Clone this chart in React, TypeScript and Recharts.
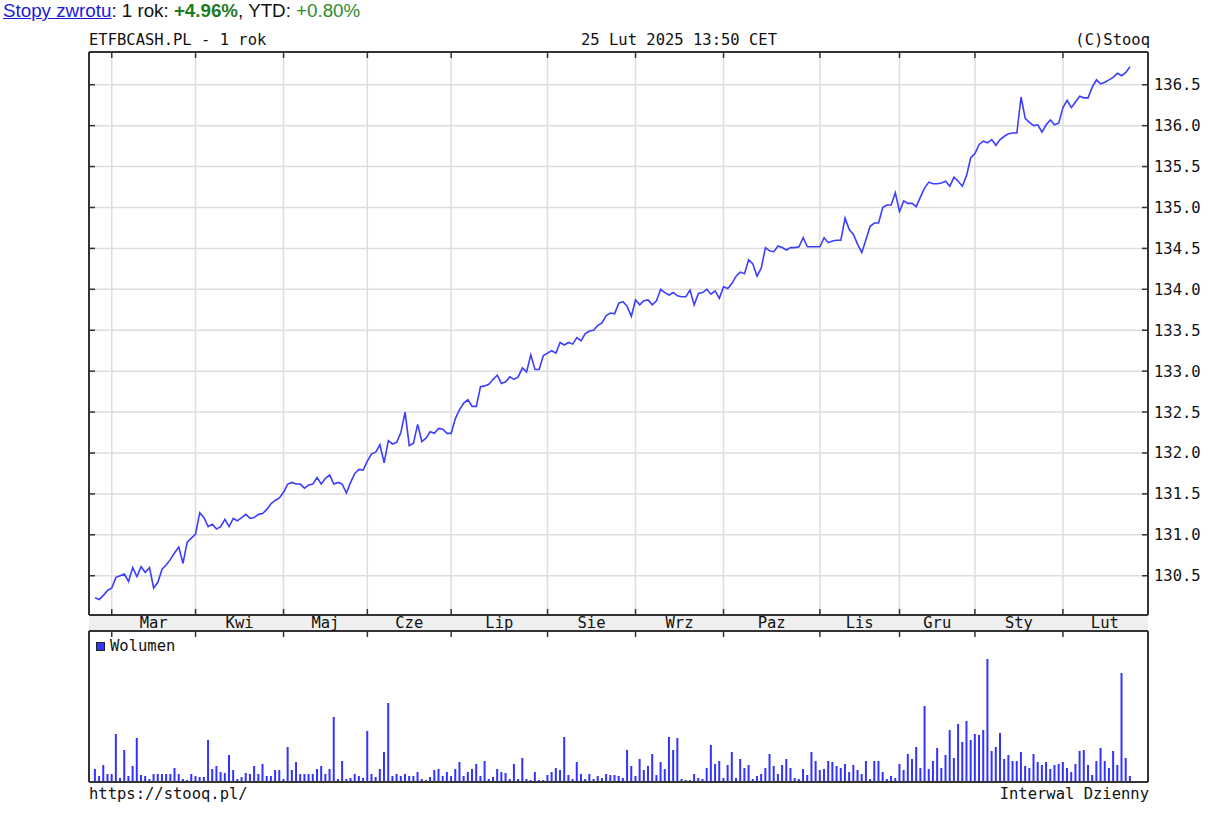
import React from 'react';
import { LineChart, Line, BarChart, Bar, XAxis, YAxis, CartesianGrid, Legend } from 'recharts';

// ---------- data ----------
const PRICES: number[] = [
  130.23, 130.21, 130.26, 130.32, 130.35, 130.48, 130.50, 130.52, 130.43, 130.60,
  130.49, 130.61, 130.54, 130.60, 130.35, 130.42, 130.58, 130.63, 130.70, 130.78,
  130.85, 130.65, 130.91, 130.96, 131.01, 131.27, 131.21, 131.10, 131.13, 131.07,
  131.10, 131.19, 131.10, 131.20, 131.17, 131.21, 131.25, 131.20, 131.21, 131.25,
  131.26, 131.31, 131.38, 131.42, 131.45, 131.52, 131.62, 131.64, 131.62, 131.62,
  131.57, 131.61, 131.62, 131.70, 131.62, 131.69, 131.73, 131.62, 131.64, 131.62,
  131.51, 131.64, 131.75, 131.80, 131.79, 131.90, 131.99, 132.01, 132.10, 131.88,
  132.15, 132.11, 132.13, 132.25, 132.50, 132.09, 132.12, 132.35, 132.14, 132.18,
  132.26, 132.24, 132.30, 132.29, 132.24, 132.24, 132.42, 132.53, 132.61, 132.65,
  132.57, 132.57, 132.81, 132.82, 132.84, 132.90, 132.95, 132.85, 132.87, 132.93,
  132.90, 132.93, 133.04, 132.99, 133.20, 133.02, 133.02, 133.19, 133.22, 133.25,
  133.22, 133.35, 133.32, 133.35, 133.33, 133.41, 133.37, 133.46, 133.49, 133.50,
  133.56, 133.59, 133.68, 133.71, 133.70, 133.83, 133.85, 133.79, 133.67, 133.87,
  133.81, 133.86, 133.87, 133.81, 133.86, 134.00, 133.96, 133.93, 133.96, 133.92,
  133.91, 133.91, 133.99, 133.81, 133.95, 133.96, 134.00, 133.94, 133.98, 133.89,
  134.03, 134.01, 134.07, 134.16, 134.21, 134.19, 134.36, 134.31, 134.16, 134.26,
  134.51, 134.47, 134.46, 134.53, 134.51, 134.48, 134.51, 134.51, 134.52, 134.63,
  134.52, 134.52, 134.52, 134.52, 134.63, 134.57, 134.59, 134.60, 134.60, 134.87,
  134.73, 134.67, 134.55, 134.45, 134.61, 134.77, 134.81, 134.81, 135.00, 135.03,
  135.03, 135.18, 134.95, 135.08, 135.05, 135.05, 135.01, 135.13, 135.24, 135.31,
  135.29, 135.29, 135.30, 135.32, 135.26, 135.37, 135.32, 135.26, 135.39, 135.61,
  135.66, 135.77, 135.81, 135.79, 135.83, 135.76, 135.83, 135.87, 135.90, 135.91,
  135.91, 136.35, 136.09, 136.04, 136.00, 136.01, 135.92, 136.01, 136.07, 136.01,
  136.03, 136.22, 136.31, 136.22, 136.29, 136.36, 136.34, 136.34, 136.47, 136.56,
  136.51, 136.53, 136.56, 136.59, 136.64, 136.61, 136.65, 136.72,
];

const VOLUMES: number[] = [
  13, 6, 17, 8, 8, 48, 4, 32, 6, 16,
  44, 7, 6, 3, 8, 8, 8, 8, 8, 14,
  8, 3, 2, 8, 6, 5, 5, 42, 13, 16,
  10, 9, 27, 12, 3, 5, 9, 8, 16, 8,
  18, 6, 6, 12, 12, 3, 35, 12, 20, 8,
  8, 8, 8, 13, 16, 8, 13, 65, 3, 21,
  3, 4, 8, 6, 4, 51, 8, 5, 13, 30,
  79, 6, 8, 6, 8, 6, 6, 10, 3, 2,
  5, 12, 13, 6, 10, 6, 13, 20, 6, 10,
  13, 18, 6, 21, 3, 5, 13, 10, 9, 3,
  18, 3, 24, 3, 2, 10, 2, 2, 7, 10,
  14, 12, 45, 7, 3, 20, 8, 3, 8, 3,
  6, 4, 8, 7, 7, 6, 4, 32, 16, 6,
  23, 12, 16, 28, 7, 20, 13, 45, 32, 44,
  3, 2, 2, 8, 4, 3, 14, 37, 18, 21,
  4, 17, 30, 4, 23, 14, 17, 3, 6, 8,
  14, 28, 16, 8, 17, 23, 14, 4, 3, 13,
  7, 30, 21, 12, 13, 21, 20, 16, 14, 18,
  10, 17, 12, 8, 21, 3, 21, 21, 10, 3,
  6, 4, 18, 12, 28, 23, 35, 14, 76, 13,
  21, 34, 14, 27, 52, 24, 58, 40, 61, 42,
  48, 47, 52, 123, 31, 35, 49, 23, 27, 21,
  21, 30, 16, 14, 28, 20, 17, 20, 13, 17,
  18, 20, 14, 10, 18, 31, 32, 17, 7, 21,
  34, 21, 14, 31, 17, 109, 24, 6,
];

const MONTH_LABELS: string[] = ['Mar', 'Kwi', 'Maj', 'Cze', 'Lip', 'Sie', 'Wrz', 'Paz', 'Lis', 'Gru', 'Sty', 'Lut'];
const MONTH_START_IDX: number[] = [4, 24, 45, 65, 85, 108, 129, 150, 173, 192, 210, 231];
const MONTH_END_IDX = 251;
const PRICE_TICKS: number[] = [130.5, 131.0, 131.5, 132.0, 132.5, 133.0, 133.5, 134.0, 134.5, 135.0, 135.5, 136.0, 136.5];

const TITLE = 'ETFBCASH.PL - 1 rok';
const DATE_TEXT = '25 Lut 2025 13:50 CET';
const COPYRIGHT = '(C)Stooq';
const URL_TEXT = 'https://stooq.pl/';
const INTERVAL_TEXT = 'Interwal Dzienny';
const VOLUME_NAME = 'Wolumen';
const RETURN_1Y = '+4.96%';
const RETURN_YTD = '+0.80%';

// ---------- derived tables ----------
const priceData = PRICES.map((price, i) => ({ i, price }));
const volumeData = VOLUMES.map((vol, i) => ({ i, vol }));
const MONTH_MIDS = MONTH_START_IDX.map((s, k) => (s + (k + 1 < MONTH_START_IDX.length ? MONTH_START_IDX[k + 1] : MONTH_END_IDX)) / 2);
const BAND_TICKS = [...MONTH_START_IDX, ...MONTH_MIDS].sort((a, b) => a - b);

// ---------- styling ----------
const X_DOMAIN: [number, number] = [-1.43, 251.3];
const PRICE_DOMAIN: [number, number] = [130.02, 136.9];
const VOL_DOMAIN: [number, number] = [0, 151];
const FRAME = '#333333';
const GRID = '#dddddd';
const MONO = '"DejaVu Sans Mono", monospace';
const MONO_SIZE = 15.5;
const TEXT = '#111111';

const TopTick = (p: any) => <line x1={p.x} y1={p.y} x2={p.x} y2={p.y + 6} stroke={FRAME} strokeWidth={1.5} />;
const BottomTick = (p: any) => <line x1={p.x} y1={p.y} x2={p.x} y2={p.y - 6} stroke={FRAME} strokeWidth={1.5} />;
const LeftTick = (p: any) => <line x1={p.x} y1={p.y} x2={p.x + 6} y2={p.y} stroke={FRAME} strokeWidth={1.5} />;
const RightTick = (p: any) => (
  <g>
    <line x1={p.x - 6} y1={p.y} x2={p.x} y2={p.y} stroke={FRAME} strokeWidth={1.5} />
    <text x={p.x + 6} y={p.y} dy={5.5} fontFamily={MONO} fontSize={MONO_SIZE} fill={TEXT}>
      {Number(p.payload.value).toFixed(1)}
    </text>
  </g>
);
const BandTick = (p: any) => {
  const v = p.payload.value;
  if (MONTH_START_IDX.indexOf(v) >= 0) {
    return <line x1={p.x} y1={p.y} x2={p.x} y2={p.y + 6} stroke={FRAME} strokeWidth={1.5} />;
  }
  const m = MONTH_MIDS.indexOf(v);
  return (
    <text x={p.x} y={p.y - 3} textAnchor="middle" fontFamily={MONO} fontSize={MONO_SIZE} fill={TEXT}>
      {m >= 0 ? MONTH_LABELS[m] : ''}
    </text>
  );
};

const renderLegend = (props: any) => {
  const item = props.payload && props.payload[0];
  return (
    <div style={{ display: 'flex', alignItems: 'center', fontFamily: MONO, fontSize: MONO_SIZE, lineHeight: '16px', color: TEXT, whiteSpace: 'nowrap' }}>
      <span style={{ display: 'inline-block', width: 7, height: 7, background: item ? item.color : '#0000ff', border: '1px solid #222', marginRight: 5 }} />
      <span>{item ? item.value : VOLUME_NAME}</span>
    </div>
  );
};

const monoText = (extra: React.CSSProperties): React.CSSProperties => ({
  position: 'absolute',
  fontFamily: MONO,
  fontSize: MONO_SIZE,
  lineHeight: '16px',
  color: TEXT,
  whiteSpace: 'nowrap',
  ...extra,
});

export default function App() {
  return (
    <div style={{ position: 'absolute', left: 0, top: 0, width: 1211, height: 814, background: '#ffffff', overflow: 'hidden' }}>
      <div style={{ position: 'absolute', left: 3, top: 0, fontFamily: '"Liberation Sans", Arial, sans-serif', fontSize: 18.75, lineHeight: '21px', whiteSpace: 'nowrap', color: '#111' }}>
        <span style={{ color: '#1a1add', textDecoration: 'underline' }}>Stopy zwrotu</span>
        <span>: 1 rok: </span>
        <span style={{ color: '#1e7b1e', fontWeight: 'bold' }}>{RETURN_1Y}</span>
        <span>, YTD: </span>
        <span style={{ color: '#2e8b2e' }}>{RETURN_YTD}</span>
      </div>

      <div style={monoText({ left: 89, top: 32 })}>{TITLE}</div>
      <div style={monoText({ left: 581, top: 32 })}>{DATE_TEXT}</div>
      <div style={monoText({ right: 61, top: 32 })}>{COPYRIGHT}</div>

      <div style={{ position: 'absolute', left: 89, top: 615, width: 1059, height: 16, background: '#efefef' }} />

      <div style={{ position: 'absolute', left: 0, top: 0 }}>
        <LineChart width={1211} height={640} data={priceData} margin={{ top: 42, right: 0, bottom: 15, left: 0 }}>
          <CartesianGrid stroke={GRID} strokeWidth={1.5} />
          <XAxis xAxisId={0} type="number" dataKey="i" domain={X_DOMAIN} allowDataOverflow ticks={MONTH_START_IDX} interval={0}
            orientation="bottom" height={10} tickSize={0} tickMargin={0} tickLine={false} tick={BottomTick}
            axisLine={{ stroke: FRAME, strokeWidth: 2 }} />
          <XAxis xAxisId="T" type="number" dataKey="i" domain={X_DOMAIN} allowDataOverflow ticks={MONTH_START_IDX} interval={0}
            orientation="top" height={10} tickSize={0} tickMargin={0} tickLine={false} tick={TopTick}
            axisLine={{ stroke: FRAME, strokeWidth: 2 }} />
          <YAxis yAxisId={0} orientation="right" width={63} domain={PRICE_DOMAIN} allowDataOverflow ticks={PRICE_TICKS} interval={0}
            tickSize={0} tickMargin={0} tickLine={false} tick={RightTick} axisLine={{ stroke: FRAME, strokeWidth: 2 }} />
          <YAxis yAxisId="L" orientation="left" width={89} domain={PRICE_DOMAIN} allowDataOverflow ticks={PRICE_TICKS} interval={0}
            tickSize={0} tickMargin={0} tickLine={false} tick={LeftTick} axisLine={{ stroke: FRAME, strokeWidth: 2 }} />
          <Line xAxisId={0} yAxisId={0} type="linear" dataKey="price" stroke="#3d3dff" strokeWidth={1.6} dot={false} activeDot={false} isAnimationActive={false} />
        </LineChart>
      </div>

      <div style={{ position: 'absolute', left: 0, top: 600 }}>
        <BarChart width={1211} height={200} data={volumeData} margin={{ top: 15, right: 0, bottom: 17, left: 0 }}>
          <CartesianGrid horizontal={false} stroke={GRID} strokeWidth={1.5} />
          <XAxis xAxisId={0} type="number" dataKey="i" domain={X_DOMAIN} allowDataOverflow ticks={MONTH_START_IDX} interval={0}
            orientation="bottom" height={1} tickSize={0} tickMargin={0} tickLine={false} tick={false}
            axisLine={{ stroke: FRAME, strokeWidth: 2 }} />
          <XAxis xAxisId="band" type="number" dataKey="i" domain={X_DOMAIN} allowDataOverflow ticks={BAND_TICKS} interval={0}
            orientation="top" height={16} tickSize={0} tickMargin={0} tickLine={false} tick={BandTick}
            axisLine={{ stroke: FRAME, strokeWidth: 2 }} />
          <YAxis yAxisId={0} orientation="right" width={63} domain={VOL_DOMAIN} allowDataOverflow tick={false} tickLine={false}
            axisLine={{ stroke: FRAME, strokeWidth: 2 }} />
          <YAxis yAxisId="L" orientation="left" width={89} domain={VOL_DOMAIN} allowDataOverflow tick={false} tickLine={false}
            axisLine={{ stroke: FRAME, strokeWidth: 2 }} />
          <Legend verticalAlign="middle" align="center" layout="horizontal" content={renderLegend}
            wrapperStyle={{ left: 96, top: 38, width: 'auto', height: 'auto' }} />
          <Bar xAxisId={0} yAxisId={0} dataKey="vol" name={VOLUME_NAME} fill="#3333ff" barSize={2} isAnimationActive={false} />
        </BarChart>
      </div>

      <div style={monoText({ left: 89, top: 786 })}>{URL_TEXT}</div>
      <div style={monoText({ right: 62, top: 786 })}>{INTERVAL_TEXT}</div>
    </div>
  );
}
